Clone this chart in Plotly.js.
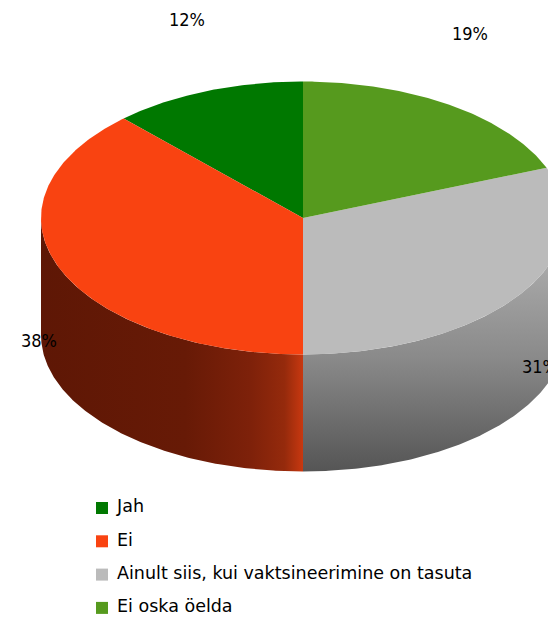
<!DOCTYPE html>
<html><head><meta charset="utf-8">
<script src="https://cdn.plot.ly/plotly-3.0.1.min.js"></script>
<style>html,body{margin:0;padding:0;background:#fff}#chart{width:548px;height:620px}</style>
</head><body><div id="chart"></div>
<script>
// ---- data ----
const categories = ['Jah', 'Ei', 'Ainult siis, kui vaktsineerimine on tasuta', 'Ei oska öelda'];
const values = [12, 38, 31, 19];

// ---- styles ----
const topColors = ['#007800', '#F94311', '#BBBBBB', '#569A1E'];
const sideScales = [
  [[0, '#003a00'], [1, '#005a00']],
  [[0, '#5E1705'], [0.55, '#671A06'], [0.8, '#7E210A'], [0.93, '#952A0C'], [1, '#C83810']],
  [[0, '#555555'], [0.45, '#8A8A8A'], [1, '#B8B8B8']],
  [[0, '#2a4d0f'], [1, '#3d6d15']]
];
const sideGradientType = ['horizontal', 'horizontal', 'vertical', 'horizontal'];

// ---- geometry (layout, in plot units = px) ----
const G = {cx: 303, cy: 218, rx: 262, ry: 136.5, depth: 117, labelLift: 72};
const LEG = {x: 102, textX: 117, y0: 508, dy: 33.3};
const FONT = 'DejaVu Sans';

function pt(phiDeg, dy) {
  const p = phiDeg * Math.PI / 180;
  return [G.cx - G.rx * Math.sin(p), G.cy - G.ry * Math.cos(p) + (dy || 0)];
}
function arc(a, b, dy) {
  const xs = [], ys = [];
  const n = Math.max(2, Math.ceil(Math.abs(b - a) / 0.5));
  for (let k = 0; k <= n; k++) {
    const q = pt(a + (b - a) * k / n, dy);
    xs.push(q[0]); ys.push(q[1]);
  }
  return [xs, ys];
}

const total = values.reduce((s, v) => s + v, 0);
const traces = [];
const tops = [];
const annotations = [];
let start = 0;
values.forEach((v, i) => {
  const a1 = start, a2 = start + v / total * 360;
  start = a2;
  // side (front half only: 90..270 ccw from top)
  const s = Math.max(a1, 90), e = Math.min(a2, 270);
  if (e > s) {
    const up = arc(s, e, 0), dn = arc(e, s, G.depth);
    traces.push({
      type: 'scatter', mode: 'lines', x: up[0].concat(dn[0]), y: up[1].concat(dn[1]),
      fill: 'toself', line: {width: 0},
      fillgradient: {type: sideGradientType[i], colorscale: sideScales[i]},
      hoverinfo: 'skip', showlegend: false
    });
  }
  // top slice
  const t = arc(a1, a2, 0);
  tops.push({
    type: 'scatter', mode: 'lines', x: [G.cx].concat(t[0], [G.cx]), y: [G.cy].concat(t[1], [G.cy]),
    fill: 'toself', fillcolor: topColors[i], line: {width: 0},
    hoverinfo: 'skip', showlegend: false
  });
  // label
  const m = (a1 + a2) / 2, mr = m * Math.PI / 180;
  const rim = pt(m, 0);
  const back = Math.cos(mr) > 0;
  annotations.push({
    xref: 'x', yref: 'y', x: rim[0], y: rim[1] + (back ? -G.labelLift : G.labelLift),
    text: Math.round(v / total * 100) + '%', showarrow: false,
    xanchor: Math.sin(mr) > 0 ? 'right' : 'left', yanchor: 'middle',
    font: {family: 'DejaVu Sans Condensed', size: 18, color: '#000000'}
  });
});

// legend
const legY = categories.map((c, i) => LEG.y0 + i * LEG.dy);
traces.push(...tops);
traces.push({
  type: 'scatter', mode: 'markers', x: categories.map(() => LEG.x), y: legY,
  marker: {symbol: 'square', size: 12, color: topColors, line: {width: 0}},
  hoverinfo: 'skip', showlegend: false, cliponaxis: false
});
traces.push({
  type: 'scatter', mode: 'text', x: categories.map(() => LEG.textX), y: legY,
  text: categories, textposition: 'middle right',
  textfont: {family: FONT, size: 17.5, color: '#000000'},
  hoverinfo: 'skip', showlegend: false, cliponaxis: false
});

const layout = {
  width: 548, height: 620,
  margin: {l: 0, r: 0, t: 0, b: 0, pad: 0},
  paper_bgcolor: '#ffffff', plot_bgcolor: '#ffffff',
  xaxis: {range: [0, 548], visible: false, fixedrange: true},
  yaxis: {range: [620, 0], visible: false, fixedrange: true},
  showlegend: false, hovermode: false,
  annotations: annotations
};
Plotly.newPlot('chart', traces, layout, {staticPlot: true, displayModeBar: false});
</script>
</body></html>
